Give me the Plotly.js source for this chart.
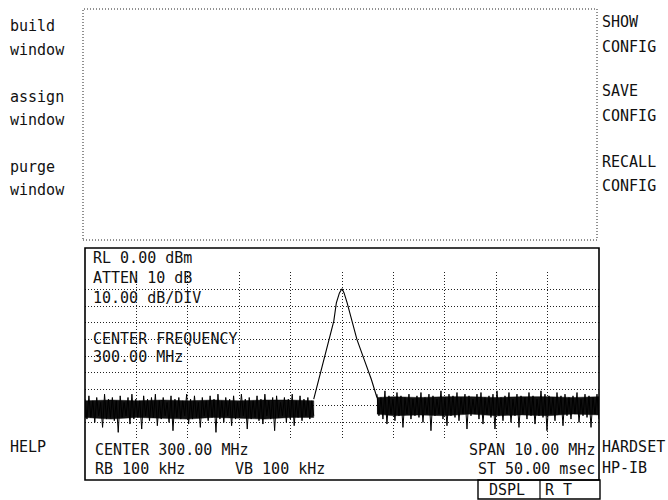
<!DOCTYPE html>
<html>
<head>
<meta charset="utf-8">
<script src="https://cdn.plot.ly/plotly-3.0.1.min.js"></script>
<style>html,body{margin:0;padding:0;background:#fff;}#chart{width:668px;height:500px;}</style>
</head>
<body>
<div id="chart"></div>
<script>
// ---- data ----
const spanStartMHz = 295.0;
const spanStopMHz = 305.0;
const centerMHz = 300.0;
const xGridMHz = [296, 297, 298, 299, 300, 301, 302, 303, 304];
const yGridDbm = [-100, -90, -80, -70, -60, -50, -40, -30, -20, -10, 0];

// noise floor left of the carrier (dBm), sweep from 295.00 to 299.45 MHz
const noiseLeftStartMHz = 295.0;
const noiseLeftStopMHz = 299.45;
const noiseLeftDbm = [
  -76,-88,-74,-87,-77,-90,-75,-86,-78,-93,
  -73,-88,-76,-87,-75,-89,-77,-96,-74,-87,
  -78,-86,-75,-91,-73,-88,-76,-87,-77,-94,
  -74,-86,-76,-89,-75,-87,-73,-92,-77,-88,
  -75,-86,-78,-90,-74,-95,-76,-87,-75,-88,
  -77,-86,-73,-91,-76,-88,-74,-87,-78,-93,
  -75,-86,-77,-89,-74,-87,-76,-96,-73,-88,
  -77,-90,-75,-86,-76,-92,-74,-88,-78,-87,
  -73,-86,-76,-94,-75,-88,-77,-87,-74,-89,
  -76,-91,-73,-86,-77,-88,-75,-95,-74,-87,
  -78,-86,-75,-90,-76,-88,-73,-92,-77,-87,
  -74,-89,-76,-86,-75,-88,-77,-86
];
// dense core of the left noise band (envelope, dBm)
const bandLeftMHz    = [295.0, 295.5, 296.0, 296.5, 297.0, 297.5, 298.0, 298.5, 299.0, 299.45];
const bandLeftTop    = [-77,   -76.5, -77,   -76.5, -77,   -76.5, -77,   -76.5, -76.5, -77];
const bandLeftBottom = [-87,   -88,   -87,   -87.5, -88,   -87,   -87.5, -88,   -87,   -87];

// carrier response (offset from center in MHz, level in dBm)
const peakOffsetMHz = [-0.55, -0.45, -0.35, -0.25, -0.16, -0.11, -0.05, 0.0, 0.04, 0.10, 0.20, 0.29, 0.43, 0.57, 0.68];
const peakDbm       = [-76,   -64,   -52,   -40,   -29,   -18,   -12,  -9.5, -12,  -18,  -29,  -40,  -52,  -64,  -75];

// noise floor right of the carrier (dBm), sweep from 300.68 to 305.00 MHz
const noiseRightStartMHz = 300.68;
const noiseRightStopMHz = 305.0;
const noiseRightDbm = [
  -73,-86,-75,-88,-71,-91,-74,-85,-76,-89,
  -72,-86,-74,-93,-75,-85,-73,-88,-76,-86,
  -74,-87,-72,-90,-75,-85,-73,-95,-74,-86,
  -76,-85,-71,-88,-75,-92,-73,-86,-74,-87,
  -72,-89,-75,-85,-73,-94,-74,-86,-76,-85,
  -73,-88,-72,-91,-75,-85,-74,-87,-73,-94,
  -71,-86,-75,-89,-74,-85,-72,-90,-76,-86,
  -73,-93,-74,-85,-75,-88,-72,-86,-74,-91,
  -76,-86,-71,-87,-73,-95,-74,-85,-75,-89,
  -72,-85,-74,-92,-73,-86,-75,-88,-74,-85,
  -72,-90,-76,-86,-73,-87,-74,-93,-75,-85,
  -73,-88
];
// dense core of the right noise band (envelope, dBm)
const bandRightMHz    = [300.68, 301.0, 301.5, 302.0, 302.5, 303.0, 303.5, 304.0, 304.5, 305.0];
const bandRightTop    = [-75,    -74.5, -75,   -74.5, -74.5, -75,   -74.5, -74.5, -75,   -74.5];
const bandRightBottom = [-85,    -86,   -85.5, -86,   -85,   -86,   -85.5, -86,   -85,   -85.5];

// screen texts
const leftKeys = ["build", "window", "assign", "window", "purge", "window", "HELP"];
const rightKeys = ["SHOW", "CONFIG", "SAVE", "CONFIG", "RECALL", "CONFIG", "HARDSET", "HP-IB"];
const screenTop = ["RL 0.00 dBm", "ATTEN 10 dB", "10.00 dB/DIV", "CENTER FREQUENCY", "300.00 MHz"];
const screenBottomLeft = ["CENTER 300.00 MHz", "RB 100 kHz", "VB 100 kHz"];
const screenBottomRight = ["SPAN 10.00 MHz", "ST 50.00 msec"];
const statusBox = ["DSPL", "R T"];

// ---- sweep frequencies of the noise samples ----
function sweep(a, b, n) { const out = []; for (let i = 0; i < n; i++) out.push(a + (b - a) * i / (n - 1)); return out; }
const noiseLeftMHz = sweep(noiseLeftStartMHz, noiseLeftStopMHz, noiseLeftDbm.length);
const noiseRightMHz = sweep(noiseRightStartMHz, noiseRightStopMHz, noiseRightDbm.length);
const peakMHz = peakOffsetMHz.map(o => centerMHz + o);

function band(xs, top, bottom) {
  return {x: xs.concat(xs.slice().reverse()), y: top.concat(bottom.slice().reverse()),
          type: 'scatter', mode: 'lines', fill: 'toself', fillcolor: '#111',
          line: {color: '#111', width: 0.5}, hoverinfo: 'skip'};
}

const traces = [
  band(bandLeftMHz, bandLeftTop, bandLeftBottom),
  band(bandRightMHz, bandRightTop, bandRightBottom),
  {x: noiseLeftMHz, y: noiseLeftDbm, type: 'scatter', mode: 'lines', line: {color: '#000', width: 1.0}, hoverinfo: 'skip'},
  {x: peakMHz, y: peakDbm, type: 'scatter', mode: 'lines', line: {color: '#000', width: 1.1}, hoverinfo: 'skip'},
  {x: noiseRightMHz, y: noiseRightDbm, type: 'scatter', mode: 'lines', line: {color: '#000', width: 1.0}, hoverinfo: 'skip'}
];

// ---- layout helpers (pixel -> paper) ----
const L = 85, R = 69, T = 272, B = 60, W = 668, H = 500;
const pw = W - L - R, ph = H - T - B;
const PX = x => (x - L) / pw;
const PY = y => (H - B - y) / ph;

const font = {family: 'DejaVu Sans Mono, Liberation Mono, monospace', size: 15, color: '#111'};
function ann(text, x, y, anchor) {
  return {text: text, x: PX(x), y: PY(y), xref: 'paper', yref: 'paper', showarrow: false,
          xanchor: anchor || 'left', yanchor: 'middle', font: font, borderpad: 0};
}

const annotations = [];
const leftY = [26, 50, 97, 120, 167, 190, 447];
leftKeys.forEach((t, i) => annotations.push(ann(t, 9, leftY[i])));
const rightY = [22, 47, 91, 116, 162, 186, 447, 468];
rightKeys.forEach((t, i) => annotations.push(ann(t, 601, rightY[i])));
const topY = [258, 278, 298, 339, 357];
screenTop.forEach((t, i) => annotations.push(ann(t, 92, topY[i])));
annotations.push(ann(screenBottomLeft[0], 94, 450));
annotations.push(ann(screenBottomLeft[1], 94, 469));
annotations.push(ann(screenBottomLeft[2], 234, 469));
annotations.push(ann(screenBottomRight[0], 596, 450, 'right'));
annotations.push(ann(screenBottomRight[1], 596, 469, 'right'));
annotations.push(ann(statusBox[0], 488, 490));
annotations.push(ann(statusBox[1], 544, 490));

const shapes = [
  {type: 'rect', xref: 'paper', yref: 'paper', x0: PX(83), x1: PX(597), y0: PY(240), y1: PY(9),
   line: {color: '#222', width: 1, dash: '1px,2px'}},
  {type: 'rect', xref: 'paper', yref: 'paper', x0: PX(85), x1: PX(599), y0: PY(480), y1: PY(248),
   line: {color: '#000', width: 1.6}},
  {type: 'rect', xref: 'paper', yref: 'paper', x0: PX(478), x1: PX(600), y0: PY(499), y1: PY(480),
   line: {color: '#000', width: 1.4}},
  {type: 'line', xref: 'paper', yref: 'paper', x0: PX(540), x1: PX(540), y0: PY(499), y1: PY(480),
   line: {color: '#000', width: 1.2}}
];

const layout = {
  width: W, height: H, autosize: false,
  margin: {l: L, r: R, t: T, b: B, pad: 0},
  paper_bgcolor: '#fff', plot_bgcolor: '#fff',
  showlegend: false,
  xaxis: {range: [spanStartMHz, spanStopMHz], tickvals: xGridMHz, showticklabels: false, ticks: '',
          showgrid: true, gridcolor: '#222', gridwidth: 1, griddash: '1px,2px',
          zeroline: false, showline: false, fixedrange: true},
  yaxis: {range: [-100.6, 0.6], tickvals: yGridDbm, showticklabels: false, ticks: '',
          showgrid: true, gridcolor: '#222', gridwidth: 1, griddash: '1px,2px',
          zeroline: false, showline: false, fixedrange: true},
  annotations: annotations,
  shapes: shapes
};

Plotly.newPlot('chart', traces, layout, {displayModeBar: false, staticPlot: true});
</script>
</body>
</html>
